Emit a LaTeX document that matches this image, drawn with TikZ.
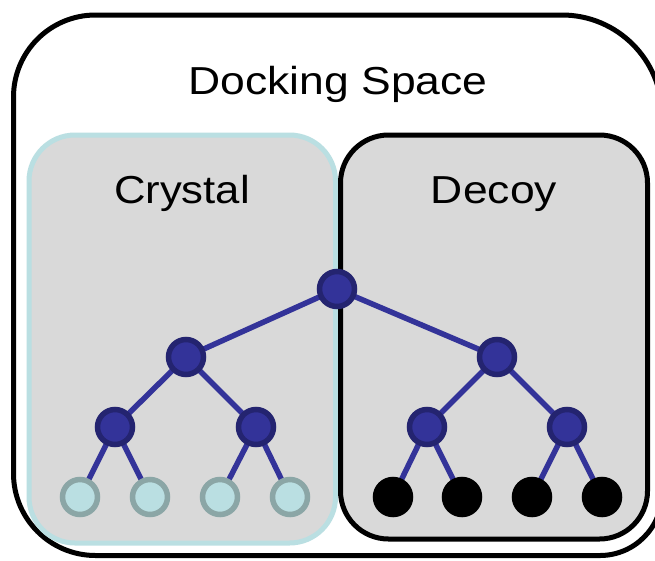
\documentclass[tikz,border=0pt]{standalone}
\usepackage{fontspec}
\setmainfont{Liberation Sans}
\definecolor{nodefill}{RGB}{51,51,153}
\definecolor{nodedraw}{RGB}{36,36,112}
\definecolor{edgecol}{RGB}{51,51,153}
\definecolor{leaffill}{RGB}{186,223,226}
\definecolor{leafdraw}{RGB}{139,166,166}
\definecolor{crysborder}{RGB}{186,223,226}
\definecolor{boxgrey}{RGB}{217,217,217}
\pgfdeclarelayer{bg}
\pgfdeclarelayer{edges}
\pgfsetlayers{bg,edges,main}
\tikzset{
  inner/.style={circle, minimum size=35pt, inner sep=0pt, line width=5.5pt, draw=nodedraw, fill=nodefill},
  cleaf/.style={circle, minimum size=35pt, inner sep=0pt, line width=5.5pt, draw=leafdraw, fill=leaffill},
  dleaf/.style={circle, minimum size=35pt, inner sep=0pt, line width=5.5pt, draw=black, fill=black},
  link/.style={line width=5.5pt, draw=edgecol},
  bigtext/.style={anchor=base, inner sep=0pt, font=\fontsize{39}{41}\selectfont},
}
\begin{document}
\begin{tikzpicture}[x=1pt,y=-1pt]
\useasboundingbox (0,0) rectangle (655,560);
\clip (0,0) rectangle (655,560);
% nodes
\node[inner] (r) at (337,289) {};
\node[inner] (a) at (186,357) {};
\node[inner] (b) at (497,357) {};
\node[inner] (a1) at (115,427) {};
\node[inner] (a2) at (256,427) {};
\node[inner] (b1) at (427,427) {};
\node[inner] (b2) at (567,427) {};
\node[cleaf] (l1) at (80,497) {};
\node[cleaf] (l2) at (150,497) {};
\node[cleaf] (l3) at (220,497) {};
\node[cleaf] (l4) at (290,497) {};
\node[dleaf] (l5) at (393,497) {};
\node[dleaf] (l6) at (462,497) {};
\node[dleaf] (l7) at (532,497) {};
\node[dleaf] (l8) at (602,497) {};
\node[bigtext] (t0) at (338,94) {\scalebox{1.14}[1]{Docking Space}};
\node[bigtext] (t1) at (182,203) {\scalebox{1.12}[1]{Crystal}};
\node[bigtext] (t2) at (494,203) {\scalebox{1.14}[1]{Decoy}};
\begin{pgfonlayer}{edges}
\draw[link] (r.center) -- (a.center);
\draw[link] (r.center) -- (b.center);
\draw[link] (a.center) -- (a1.center);
\draw[link] (a.center) -- (a2.center);
\draw[link] (b.center) -- (b1.center);
\draw[link] (b.center) -- (b2.center);
\draw[link] (a1.center) -- (l1.center);
\draw[link] (a1.center) -- (l2.center);
\draw[link] (a2.center) -- (l3.center);
\draw[link] (a2.center) -- (l4.center);
\draw[link] (b1.center) -- (l5.center);
\draw[link] (b1.center) -- (l6.center);
\draw[link] (b2.center) -- (l7.center);
\draw[link] (b2.center) -- (l8.center);
\end{pgfonlayer}
\begin{pgfonlayer}{bg}
% outer docking space box
\draw[line width=5pt, fill=white, rounded corners=82pt]
  (13.5,300) -- (13.5,15) [rounded corners=100pt] -- (662,15) [rounded corners=62pt] -- (662,555.5) [rounded corners=82pt] -- (13.5,555.5) -- cycle;
% crystal box
\draw[line width=5pt, draw=crysborder, fill=boxgrey, rounded corners=46pt]
  (29,135) rectangle (335.5,543);
% decoy box
\draw[line width=5pt, draw=black, fill=boxgrey, rounded corners=48pt]
  (340.5,135) rectangle (647.5,539);
\end{pgfonlayer}
\end{tikzpicture}
\end{document}
